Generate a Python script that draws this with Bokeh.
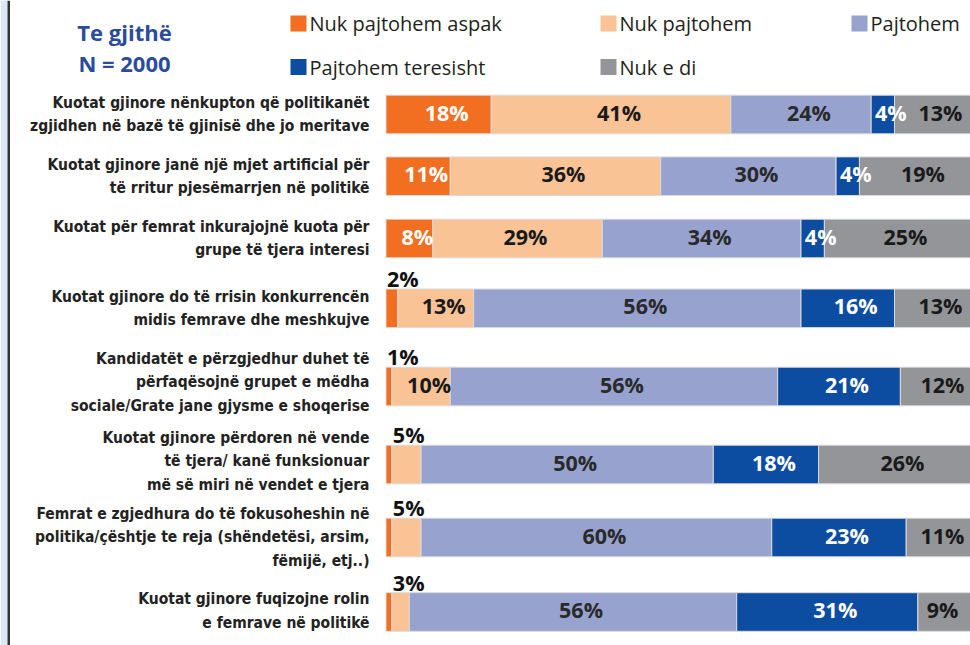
from bokeh.plotting import figure
from bokeh.models import Range1d, ColumnDataSource
from bokeh.core.properties import value
from bokeh.embed import file_html
from bokeh.resources import INLINE
import numpy as np

# ---------------- data ----------------
categories = ["Nuk pajtohem aspak", "Nuk pajtohem", "Pajtohem",
              "Pajtohem teresisht", "Nuk e di"]
statements = [
    "Kuotat gjinore nënkupton që politikanët\nzgjidhen në bazë të gjinisë dhe jo meritave",
    "Kuotat gjinore janë një mjet artificial për\ntë rritur pjesëmarrjen në politikë",
    "Kuotat për femrat inkurajojnë kuota për\ngrupe të tjera interesi",
    "Kuotat gjinore do të rrisin konkurrencën\nmidis femrave dhe meshkujve",
    "Kandidatët e përzgjedhur duhet të\npërfaqësojnë grupet e mëdha\nsociale/Grate jane gjysme e shoqerise",
    "Kuotat gjinore përdoren në vende\ntë tjera/ kanë funksionuar\nmë së miri në vendet e tjera",
    "Femrat e zgjedhura do të fokusoheshin në\npolitika/çështje te reja (shëndetësi, arsim,\nfëmijë, etj..)",
    "Kuotat gjinore fuqizojne rolin\ne femrave në politikë",
]
nuk_pajtohem_aspak = [18, 11, 8, 2, 1, 1, 1, 1]
nuk_pajtohem = [41, 36, 29, 13, 10, 5, 5, 3]
pajtohem = [24, 30, 34, 56, 56, 50, 60, 56]
pajtohem_teresisht = [4, 4, 4, 16, 21, 18, 23, 31]
nuk_e_di = [13, 19, 25, 13, 12, 26, 11, 9]
title_lines = ["Te gjithë", "N = 2000"]

# ---------------- presentation ----------------
colors = ["#F26F21", "#FAC396", "#98A2CF", "#0D4DA1", "#939598"]
label_colors = ["white", "#1a1a1a", "#2a2a2a", "white", "#1a1a1a"]
# how each segment's value is shown: "in" inside, "above" over the bar, "" not shown
label_mode = [
    ["in", "in", "in", "in", "in"],
    ["in", "in", "in", "in", "in"],
    ["in", "in", "in", "in", "in"],
    ["above", "in", "in", "in", "in"],
    ["above", "in", "in", "in", "in"],
    ["", "above", "in", "in", "in"],
    ["", "above", "in", "in", "in"],
    ["", "above", "in", "in", "in"],
]
row_center_px = [114, 175.7, 238, 307.8, 386, 464, 537, 611.5]
row_label_dy = [0, 0, 0, 0, -4, -3, 0, -1]
BAR_H = 38.6
BAR_X0_PX = 385.5
PX_PER_PCT = 5.845
LEFT_PX, RIGHT_PX = 0, 970
TOP_PX, BOTTOM_PX = 0, 645


def sx(px):
    return (px - BAR_X0_PX) / PX_PER_PCT


W = RIGHT_PX - LEFT_PX
H = BOTTOM_PX - TOP_PX

p = figure(width=W, height=H, output_backend="svg", toolbar_location=None,
           x_range=Range1d(sx(LEFT_PX), sx(RIGHT_PX)),
           y_range=Range1d(BOTTOM_PX, TOP_PX),
           min_border=0, x_axis_location=None, y_axis_location=None,
           outline_line_color=None, background_fill_color="white",
           border_fill_color="white")
p.grid.visible = False

# left frame: light strip and dark rule
p.quad(left=[sx(0)], right=[sx(7)], top=[TOP_PX], bottom=[BOTTOM_PX],
       fill_color="#D8E8F5", line_color=None)
p.quad(left=[sx(7)], right=[sx(9.5)], top=[TOP_PX], bottom=[BOTTOM_PX],
       fill_color="#333333", line_color=None)

series = [nuk_pajtohem_aspak, nuk_pajtohem, pajtohem, pajtohem_teresisht, nuk_e_di]
vals = np.array(series, dtype=float)  # (5, rows)
cum = np.cumsum(vals, axis=0)
lefts = cum - vals

for k in range(len(categories)):
    src = ColumnDataSource(dict(y=row_center_px, left=lefts[k], right=cum[k]))
    p.hbar(y="y", left="left", right="right", height=BAR_H, source=src,
           fill_color=colors[k], line_color="#dadada", line_width=1)

# value labels
PCT_FONT = value("Open Sans")
in_x, in_y, in_t, in_c = [], [], [], []
ab_x, ab_y, ab_t = [], [], []
max_x = sx(942)
off = 8 / PX_PER_PCT
for r in range(len(statements)):
    for k in range(len(categories)):
        mode = label_mode[r][k]
        v = vals[k, r]
        txt = f"{int(v)}%"
        if mode == "in":
            cx = (lefts[k, r] + cum[k, r]) / 2 + off
            in_x.append(min(cx, max_x))
            in_y.append(row_center_px[r] - 2.5)
            in_t.append(txt)
            in_c.append(label_colors[k])
        elif mode == "above":
            ab_x.append(lefts[k, r] + 1.0 / PX_PER_PCT)
            ab_y.append(row_center_px[r] - BAR_H / 2 - 10.5)
            ab_t.append(txt)

p.text(x="x", y="y", text="t", text_color="c",
       source=ColumnDataSource(dict(x=in_x, y=in_y, t=in_t, c=in_c)),
       text_font=PCT_FONT, text_font_style="bold", text_font_size="21.5px",
       text_align="center", text_baseline="middle")
p.text(x="x", y="y", text="t",
       source=ColumnDataSource(dict(x=ab_x, y=ab_y, t=ab_t)),
       text_font=PCT_FONT, text_font_style="bold", text_font_size="21.5px",
       text_color="#111111", text_align="left", text_baseline="middle")

# row labels
p.text(x=[sx(369)] * len(statements),
       y=[c + d for c, d in zip(row_center_px, row_label_dy)],
       text=statements,
       text_font=value("'Liberation Sans Narrow', 'DejaVu Sans Condensed', sans-serif"),
       text_font_style="bold", text_font_size="15.5px", text_color="#222222",
       text_align="right", text_baseline="middle", text_line_height=1.3)

# title
p.text(x=[sx(124)] * 2, y=[31, 62], text=title_lines,
       text_font=value("Open Sans"), text_font_style="bold",
       text_font_size="22px", text_color="#2B4C9B",
       text_align="center", text_baseline="middle")

# legend (3 columns x 2 rows)
leg_cols_px = [290, 600, 851]
leg_rows_px = [23, 66.5]
sq = 16
lx, ly, lt = [], [], []
for i, name in enumerate(categories):
    cx = leg_cols_px[i % 3]
    cy = leg_rows_px[i // 3]
    p.quad(left=[sx(cx)], right=[sx(cx + sq)], top=[cy - sq / 2], bottom=[cy + sq / 2],
           fill_color=colors[i], line_color=None)
    lx.append(sx(cx + sq + 3))
    ly.append(cy)
    lt.append(name)
p.text(x=lx, y=ly, text=lt, text_font=value("Open Sans"), text_font_size="20px",
       text_color="#231F20", text_align="left", text_baseline="middle")

open("out.html", "w").write(file_html(p, INLINE))
